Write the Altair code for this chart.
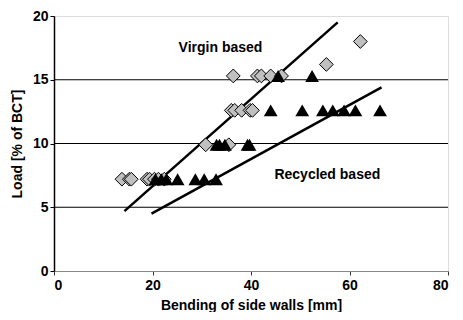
import altair as alt
import pandas as pd

# Virgin based (diamonds)
virgin_x = [13.8, 15.3, 15.7, 18.9, 19.4, 20.4, 21.2, 22.4,
            30.8, 35.5,
            36.0, 36.7, 38.1, 39.8, 40.3,
            36.4, 41.3, 42.1, 44.0, 46.2,
            55.3, 62.2]
virgin_y = [7.2, 7.2, 7.2, 7.2, 7.2, 7.2, 7.2, 7.2,
            9.9, 9.9,
            12.6, 12.6, 12.6, 12.6, 12.6,
            15.3, 15.3, 15.3, 15.3, 15.3,
            16.2, 18.0]

# Recycled based (triangles)
recycled_x = [20.6, 21.8, 22.8, 25.1, 28.7, 30.5, 32.9,
              33.0, 33.6, 34.7, 39.3, 39.7,
              44.0, 50.4, 54.6, 56.6, 58.9, 61.2, 66.2,
              45.5, 52.4]
recycled_y = [7.2, 7.2, 7.2, 7.2, 7.2, 7.2, 7.2,
              9.9, 9.9, 9.9, 9.9, 9.9,
              12.6, 12.6, 12.6, 12.6, 12.6, 12.6, 12.6,
              15.3, 15.3]

# Trend lines (end points)
virgin_line_x = [14.3, 57.6]
virgin_line_y = [4.7, 19.5]
recycled_line_x = [19.8, 66.5]
recycled_line_y = [4.5, 14.4]

grid_values = [5, 10, 15]

labels_text = ["Virgin based", "Recycled based"]
labels_x = [33.8, 55.5]
labels_y = [17.5, 7.5]

FONT = "Liberation Sans"
FS = 14

xscale = alt.Scale(domain=[0, 80], nice=False)
yscale = alt.Scale(domain=[0, 20], nice=False)

xaxis = alt.Axis(values=[0, 20, 40, 60, 80], title="Bending of side walls [mm]",
                 grid=False, domainColor="#888888", tickColor="#333333", tickSize=4,
                 labelFont=FONT, labelFontSize=FS, labelFontWeight="bold", labelColor="black",
                 titleFont=FONT, titleFontSize=FS, titleFontWeight="bold", titleColor="black",
                 titlePadding=6, labelPadding=3)
yaxis = alt.Axis(values=[0, 5, 10, 15, 20], title="Load [% of BCT]",
                 grid=False, domainColor="black", domainWidth=1.5, tickColor="black", tickSize=4,
                 labelFont=FONT, labelFontSize=FS, labelFontWeight="bold", labelColor="black",
                 titleFont=FONT, titleFontSize=FS, titleFontWeight="bold", titleColor="black",
                 titlePadding=8, labelPadding=2)

vdf = pd.DataFrame({"x": virgin_x, "y": virgin_y})
rdf = pd.DataFrame({"x": recycled_x, "y": recycled_y})
vl = pd.DataFrame({"x": virgin_line_x, "y": virgin_line_y})
rl = pd.DataFrame({"x": recycled_line_x, "y": recycled_line_y})
gdf = pd.DataFrame({"y": grid_values})
tdf = pd.DataFrame({"t": labels_text, "x": labels_x, "y": labels_y})

grid = alt.Chart(gdf).mark_rule(color="black", strokeWidth=1.2).encode(
    y=alt.Y("y:Q", scale=yscale, axis=yaxis))

diamonds = alt.Chart(vdf).mark_point(shape="diamond", size=190, filled=True,
                                     fill="#c0c0c0", stroke="black", strokeWidth=1,
                                     opacity=1, fillOpacity=1).encode(
    x=alt.X("x:Q", scale=xscale, axis=xaxis),
    y=alt.Y("y:Q", scale=yscale, axis=yaxis))

triangles = alt.Chart(rdf).mark_point(shape="triangle-up", size=190, filled=True,
                                      color="black", opacity=1).encode(
    x=alt.X("x:Q", scale=xscale, axis=xaxis),
    y=alt.Y("y:Q", scale=yscale, axis=yaxis))

line_v = alt.Chart(vl).mark_line(color="black", strokeWidth=2.5).encode(
    x=alt.X("x:Q", scale=xscale, axis=xaxis),
    y=alt.Y("y:Q", scale=yscale, axis=yaxis))
line_r = alt.Chart(rl).mark_line(color="black", strokeWidth=2.5).encode(
    x=alt.X("x:Q", scale=xscale, axis=xaxis),
    y=alt.Y("y:Q", scale=yscale, axis=yaxis))

text = alt.Chart(tdf).mark_text(font=FONT, fontSize=FS, fontWeight="bold",
                                color="black", align="center", baseline="middle").encode(
    x=alt.X("x:Q", scale=xscale, axis=xaxis),
    y=alt.Y("y:Q", scale=yscale, axis=yaxis),
    text="t:N")

chart = alt.layer(grid, line_v, line_r, diamonds, triangles, text).properties(
    width=394, height=255,
    autosize=alt.AutoSizeParams(type="none"),
    padding={"left": 46, "top": 8, "right": 7, "bottom": 41},
).configure_view(stroke="#888888", strokeWidth=1.2).configure(background="white")

chart.save("out.html", embed_options={"renderer": "svg", "actions": False})
